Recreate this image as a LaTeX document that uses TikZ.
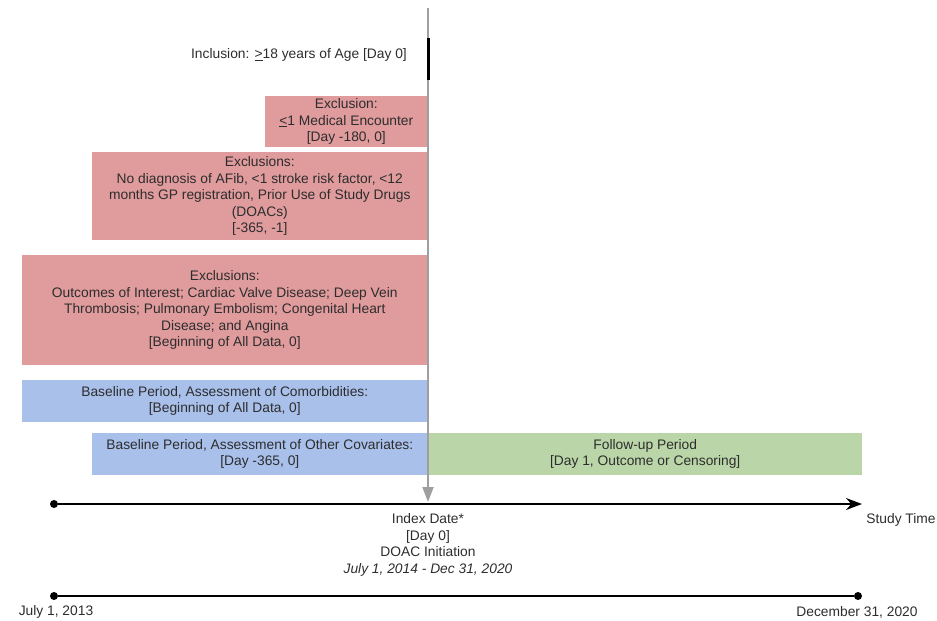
\documentclass[tikz,border=0pt]{standalone}
\usepackage{fontspec}
\setmainfont{Liberation Sans}
\usetikzlibrary{arrows.meta,positioning}
\definecolor{exclred}{RGB}{224,155,157}
\definecolor{baseblue}{RGB}{169,192,235}
\definecolor{followgreen}{RGB}{186,214,168}
\definecolor{txtgray}{RGB}{45,45,45}

\begin{document}
\begin{tikzpicture}[x=1pt,y=-1pt,
    every node/.style={font=\fontsize{13.8}{16.4}\selectfont,text=txtgray,align=center,inner sep=0pt},
    period/.style={anchor=north east,minimum height=#1},
    exclbox/.style={period=#1,fill=exclred},
    basebox/.style={period=#1,fill=baseblue},
    dot/.style={fill=black,circle,minimum size=8pt,inner sep=0pt}]
  \useasboundingbox (0,0) rectangle (937,621);

  % exclusion windows
  \node[exclbox=51pt,minimum width=163pt] (excl1) at (428,96)
    {Exclusion:\\\underline{<}1 Medical Encounter\\\relax[Day -180, 0]};
  \node[exclbox=88pt,minimum width=336pt] (excl2) at (428,152)
    {Exclusions:\\No diagnosis of AFib, <1 stroke risk factor, <12\\months GP registration, Prior Use of Study Drugs\\(DOACs)\\\relax[-365, -1]};
  \node[exclbox=110pt,minimum width=406pt] (excl3) at (428,255)
    {Exclusions:\\Outcomes of Interest; Cardiac Valve Disease; Deep Vein\\Thrombosis; Pulmonary Embolism; Congenital Heart\\Disease; and Angina\\\relax[Beginning of All Data, 0]};

  % baseline and follow-up windows
  \node[basebox=42pt,minimum width=406pt] (base1) at (428,380)
    {Baseline Period, Assessment of Comorbidities:\\\relax[Beginning of All Data, 0]};
  \node[basebox=42pt,minimum width=336pt] (base2) at (428,433)
    {Baseline Period, Assessment of Other Covariates:\\\relax[Day -365, 0]};
  \node[anchor=north west,minimum height=42pt,minimum width=434pt,fill=followgreen] (follow) at (428,433)
    {Follow-up Period\\\relax[Day 1, Outcome or Censoring]};

  % inclusion
  \node (incl) at (299,55) {Inclusion: \underline{>}18 years of Age [Day 0]};

  % study time axis
  \node[dot] (t0) at (54,504) {};
  \coordinate (t1) at (862,504);
  \coordinate (idx) at (428,502);
  \draw[line width=1.8pt,-{Stealth[length=16pt,width=12pt]}] (t0) -- (t1);
  \node (stime) at (901,520) {Study Time};
  \node (idxtxt) at (428,545) {Index Date*\\\relax[Day 0]\\DOAC Initiation\\\textit{July 1, 2014 - Dec 31, 2020}};

  % index date arrow
  \coordinate (vtop) at (428,8);
  \draw[gray!75,line width=2pt,-{Triangle[length=15pt,width=11pt]}] (vtop) -- (idx);
  \draw[black,line width=3pt] (428,38) -- (428,80);

  % calendar axis
  \node[dot] (c0) at (54,596) {};
  \node[dot] (c1) at (858,596) {};
  \draw[line width=1.8pt] (c0) -- (c1);
  \node (cstart) at (56,612) {July 1, 2013};
  \node (cend) at (857,612) {December 31, 2020};
\end{tikzpicture}
\end{document}
